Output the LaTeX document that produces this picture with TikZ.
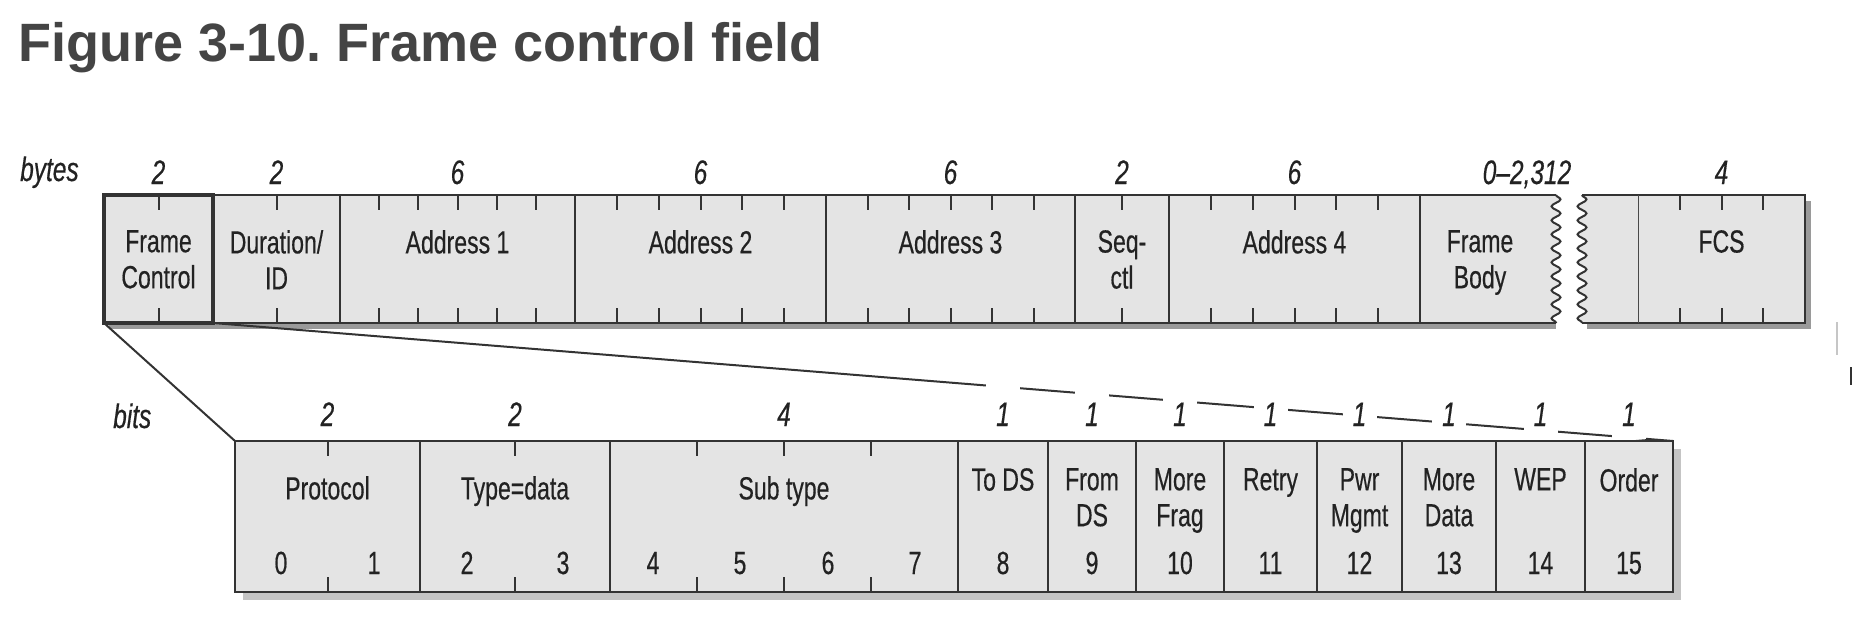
\documentclass[tikz,border=0pt]{standalone}
\usepackage{fontspec}
\setmainfont{Liberation Sans}
\newfontfamily\cond[FakeStretch=0.72,FakeBold=0.4]{Liberation Sans}
\usetikzlibrary{calc,decorations.pathmorphing}
\definecolor{linec}{HTML}{333333}
\definecolor{fieldc}{HTML}{E4E4E4}
\definecolor{titlec}{HTML}{444444}
\definecolor{textc}{HTML}{222222}
\definecolor{shadowc}{HTML}{9A9A9A}
\definecolor{shadowb}{HTML}{C4C4C4}
\frenchspacing
\newcommand\fieldticks[2]{%
  \pgfmathtruncatemacro\fldn{#2-1}%
  \foreach \k in {1,...,\fldn}{%
    \draw[tickline] ($(#1.north west)!\k/#2!(#1.north east)$) -- ++(0,15);
    \draw[tickline] ($(#1.south west)!\k/#2!(#1.south east)$) -- ++(0,-15);
  }}
\begin{document}
\begin{tikzpicture}[x=1pt,y=-1pt,
  field/.style={draw=linec, line width=2pt, fill=fieldc, anchor=north west, inner sep=0pt, outer sep=0pt, minimum width=#1, minimum height=128pt},
  bfield/.style={field=#1, minimum height=151pt},
  tickline/.style={draw=linec, line width=2pt},
  edge/.style={draw=linec, line width=2pt},
  wavydec/.style={decoration={snake, segment length=14pt, amplitude=4.5pt}},
  lab/.style={font=\cond\fontsize{32}{36}\selectfont, text=textc, align=center, anchor=north, inner sep=0pt},
  num/.style={font=\cond\itshape\fontsize{34}{40}\selectfont, text=textc, anchor=base, inner sep=0pt},
  onenum/.style={num, fill=white, text height=42pt, text depth=13pt, minimum width=34pt},
  bitnum/.style={font=\cond\fontsize{32}{36}\selectfont, text=textc, anchor=base, inner sep=0pt},
  conn/.style={draw=linec, line width=2pt},
]
\useasboundingbox (0,0) rectangle (1855,618);

% title
\node[font=\bfseries\fontsize{54}{60}\selectfont, text=titlec, anchor=base west, inner sep=0pt] (title) at (18,62) {Figure 3-10. Frame control field};

% ---------- top row (bytes) ----------
\fill[shadowc] (109,323) rectangle (1556,329);
\fill[shadowc] (1587,323) rectangle (1811,329);
\fill[shadowc] (1805,201) rectangle (1811,329);

\node[field=127pt] (dur) at (213,195) {};
\node[field=235pt] (a1) at (340,195) {};
\node[field=251pt] (a2) at (575,195) {};
\node[field=249pt] (a3) at (826,195) {};
\node[field=94pt] (seq) at (1075,195) {};
\node[field=251pt] (a4) at (1169,195) {};
\node[field=167pt] (fcs) at (1638,195) {};
% frame body with broken edge
\fill[fieldc] (1420,195) -- (1556,195) decorate[wavydec]{-- (1556,323)} -- (1420,323) -- cycle;
\draw[edge] (1420,195) -- (1556,195);
\draw[edge] (1420,323) -- (1556,323);
\draw[edge, wavydec, decorate] (1556,195) -- (1556,323);
\fill[fieldc] (1582,195) decorate[wavydec]{-- (1582,323)} -- (1638,323) -- (1638,195) -- cycle;
\draw[edge] (1582,195) -- (1638,195);
\draw[edge] (1582,323) -- (1638,323);
\draw[edge, wavydec, decorate] (1582,195) -- (1582,323);
\draw[edge] (a4.north east) -- (a4.south east);
\node[field=109pt, line width=4pt] (fc) at (104,195) {};

\fieldticks{fc}{2}
\fieldticks{dur}{2}
\fieldticks{a1}{6}
\fieldticks{a2}{6}
\fieldticks{a3}{6}
\fieldticks{seq}{2}
\fieldticks{a4}{6}
\fieldticks{fcs}{4}

\node[lab] (l-fc) at ([yshift=-35pt]fc.north) {Frame\\Control};
\node[lab] (l-dur) at ([yshift=-35pt]dur.north) {Duration/\\ID};
\node[lab] (l-a1) at ([yshift=-35pt]a1.north) {Address 1};
\node[lab] (l-a2) at ([yshift=-35pt]a2.north) {Address 2};
\node[lab] (l-a3) at ([yshift=-35pt]a3.north) {Address 3};
\node[lab] (l-seq) at ([yshift=-35pt]seq.north) {Seq-\\ctl};
\node[lab] (l-a4) at ([yshift=-35pt]a4.north) {Address 4};
\node[lab] (l-fb) at (1480,230) {Frame\\Body};
\node[lab] (l-fcs) at ([yshift=-35pt]fcs.north) {FCS};

\node[num, anchor=base west] (bytes) at (20,181) {bytes};
\node[num] (s-fc) at ([yshift=11pt]fc.north) {2};
\node[num] (s-dur) at ([yshift=11pt]dur.north) {2};
\node[num] (s-a1) at ([yshift=11pt]a1.north) {6};
\node[num] (s-a2) at ([yshift=11pt]a2.north) {6};
\node[num] (s-a3) at ([yshift=11pt]a3.north) {6};
\node[num] (s-seq) at ([yshift=11pt]seq.north) {2};
\node[num] (s-a4) at ([yshift=11pt]a4.north) {6};
\node[num] (s-fb) at (1527,184) {0–2,312};
\node[num] (s-fcs) at ([yshift=11pt]fcs.north) {4};

% ---------- bottom row (bits) ----------
\fill[shadowb] (243,592) rectangle (1681,600);
\fill[shadowb] (1673,449) rectangle (1681,600);

\node[bfield=185pt] (proto) at (235,441) {};
\node[bfield=190pt] (type) at (420,441) {};
\node[bfield=348pt] (sub) at (610,441) {};
\node[bfield=90pt] (b8) at (958,441) {};
\node[bfield=88pt] (b9) at (1048,441) {};
\node[bfield=88pt] (b10) at (1136,441) {};
\node[bfield=93pt] (b11) at (1224,441) {};
\node[bfield=85pt] (b12) at (1317,441) {};
\node[bfield=94pt] (b13) at (1402,441) {};
\node[bfield=89pt] (b14) at (1496,441) {};
\node[bfield=88pt] (b15) at (1585,441) {};

\fieldticks{proto}{2}
\fieldticks{type}{2}
\fieldticks{sub}{4}

\node[lab] (l-proto) at ([yshift=-35pt]proto.north) {Protocol};
\node[lab] (l-type) at ([yshift=-35pt]type.north) {Type=data};
\node[lab] (l-sub) at ([yshift=-35pt]sub.north) {Sub type};
\node[lab] (l-b8) at ([yshift=-27pt]b8.north) {To DS};
\node[lab] (l-b9) at ([yshift=-27pt]b9.north) {From\\DS};
\node[lab] (l-b10) at ([yshift=-27pt]b10.north) {More\\Frag};
\node[lab] (l-b11) at ([yshift=-27pt]b11.north) {Retry};
\node[lab] (l-b12) at ([yshift=-27pt]b12.north) {Pwr\\Mgmt};
\node[lab] (l-b13) at ([yshift=-27pt]b13.north) {More\\Data};
\node[lab] (l-b14) at ([yshift=-27pt]b14.north) {WEP};
\node[lab] (l-b15) at ([yshift=-27pt]b15.north) {Order};

\foreach \n/\x in {0/281,1/374,2/467,3/563,4/653,5/740,6/828,7/915,8/1003,9/1092,10/1180,11/1270.5,12/1359.5,13/1449,14/1540.5,15/1629}
  \node[bitnum] (bn\n) at (\x,574) {\n};

% connectors
\draw[conn] (fc.south west) -- (proto.north west);
\draw[conn] (fc.south east) -- (b15.north east);

\node[num, anchor=base west] (bits) at (113,428) {bits};
\node[num] (w-proto) at ([yshift=15pt]proto.north) {2};
\node[num] (w-type) at ([yshift=15pt]type.north) {2};
\node[num] (w-sub) at ([yshift=15pt]sub.north) {4};
\foreach \b in {b8,b9,b10,b11,b12,b13,b14,b15}
  \node[onenum] (w-\b) at ([yshift=15pt]\b.north) {1};

% stray marks at right edge
\draw[gray!45, line width=1.2pt] (1837,322) -- (1837,355);
\draw[linec, line width=2pt] (1851,367) -- (1851,385);
\end{tikzpicture}
\end{document}
